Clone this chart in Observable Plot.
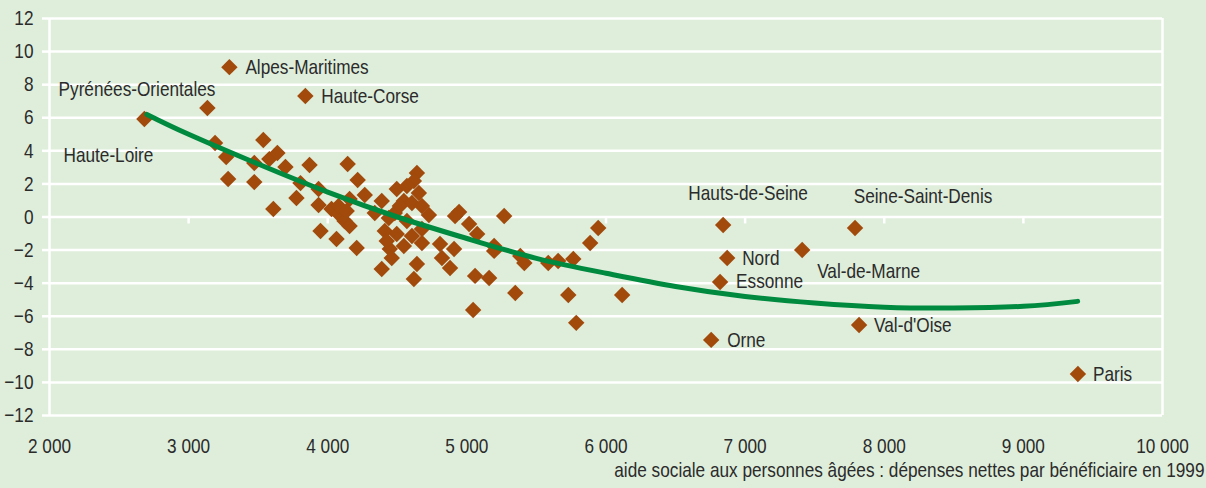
<!DOCTYPE html>
<html>
<head>
<meta charset="utf-8">
<script src="https://cdn.jsdelivr.net/npm/d3@7"></script>
<script src="https://cdn.jsdelivr.net/npm/@observablehq/plot@0.6"></script>
<style>
  html, body { margin: 0; padding: 0; background: #DFEEDB; }
  #chart { width: 1206px; height: 488px; overflow: hidden; }
</style>
</head>
<body>
<div id="chart"></div>
<script>
// ---- Data ----
const xTicks = [2000, 3000, 4000, 5000, 6000, 7000, 8000, 9000, 10000];
const yTicks = [-12, -10, -8, -6, -4, -2, 0, 2, 4, 6, 8, 10, 12];
const xTitle = "aide sociale aux personnes âgées : dépenses nettes par bénéficiaire en 1999";

// labelled départements
const namedNames = ["Haute-Loire", "Pyrénées-Orientales", "Alpes-Maritimes", "Haute-Corse",
  "Hauts-de-Seine", "Seine-Saint-Denis", "Nord", "Val-de-Marne", "Essonne", "Orne", "Val-d'Oise", "Paris"];
const namedX = [2682, 3135, 3293, 3839, 6842, 7790, 6871, 7410, 6820, 6756, 7819, 9392];
const namedY = [5.92, 6.59, 9.06, 7.31, -0.48, -0.66, -2.48, -1.99, -3.93, -7.43, -6.53, -9.49];

// other départements
const otherX = [3190, 3270, 3284, 3537, 3472, 3472, 3580, 3638, 3696, 3609,
  3869, 3804, 3775, 3934, 3934, 4027, 4078, 4121, 3948, 4063,
  4143, 4215, 4157, 4078, 4136, 4157, 4208, 4266, 4641, 4619,
  4496, 4655, 4388, 4547, 4605, 4338, 4482, 4727, 4439, 4410,
  4496, 4605, 4677, 4446, 4547, 4460, 4677, 4388, 4641, 4619,
  4807, 4908, 4821, 4879, 4944, 4915, 5016, 5074, 5059, 5160,
  5268, 5196, 5196, 5348, 5045, 5384, 5413, 5585, 5656, 5765,
  5944, 5886, 5729, 6116, 5786, 4569, 4518, 4677, 4569, 4424];
const otherY = [4.47, 3.63, 2.30, 4.65, 3.26, 2.11, 3.50, 3.87, 3.02, 0.48,
  3.14, 2.05, 1.15, 1.69, 0.73, 0.48, 0.18, -0.24, -0.85, -1.33,
  3.20, 2.24, 1.09, 0.66, 0.36, -0.54, -1.87, 1.33, 2.66, 2.18,
  1.69, 1.45, 0.97, 0.97, 0.85, 0.24, 0.24, 0.12, -0.06, -0.85,
  -1.03, -1.15, -0.73, -1.93, -1.75, -2.48, -1.57, -3.14, -2.84, -3.75,
  -1.63, -1.93, -2.48, -3.08, 0.30, 0.06, -0.42, -1.03, -3.56, -3.69,
  0.06, -1.75, -2.05, -4.59, -5.62, -2.36, -2.78, -2.78, -2.66, -2.54,
  -0.66, -1.57, -4.71, -4.71, -6.40, 1.87, 0.66, 0.66, -0.24, -1.45];

// trend curve
const trendX = [2700, 3000, 3500, 4000, 4500, 5000, 5500, 6000, 6500, 7000, 7500, 8000, 8500, 9000, 9390];
const trendY = [6.2, 5.0, 3.2, 1.5, 0.0, -1.3, -2.5, -3.4, -4.2, -4.8, -5.2, -5.45, -5.5, -5.4, -5.1];

// ---- Build tables ----
const points = [
  ...otherX.map((x, i) => ({x, y: otherY[i]})),
  ...namedX.map((x, i) => ({x, y: namedY[i], name: namedNames[i]}))
];
const named = namedX.map((x, i) => ({x, y: namedY[i], name: namedNames[i]}));
const trend = trendX.map((x, i) => ({x, y: trendY[i]}));

// ---- Styles ----
const BG = "#DFEEDB";
const DOT = "#A14A0C";
const LINE = "#008A3F";
const TEXT = "#2b2b2b";
const FONT = "'Liberation Sans', Arial, sans-serif";
const FS = 21;          // font size
const NARROW = 0.82;    // horizontal condensing (Arial Narrow look)
const labelPlacement = {
  "Haute-Loire": ["end", 9, 36],
  "Pyrénées-Orientales": ["end", 8, -19],
  "Alpes-Maritimes": ["start", 16, 0],
  "Haute-Corse": ["start", 16, 0],
  "Hauts-de-Seine": ["middle", 25, -32],
  "Seine-Saint-Denis": ["middle", 68, -32],
  "Nord": ["start", 15, 0],
  "Val-de-Marne": ["start", 15, 21],
  "Essonne": ["start", 16, -1],
  "Orne": ["start", 16, 0],
  "Val-d'Oise": ["start", 15, 0],
  "Paris": ["start", 15, 0]
};
const fmt = d => d3.format(",")(d).replace(/,/g, " ");

const chart = Plot.plot({
  width: 1206,
  height: 488,
  marginLeft: 49,
  marginRight: 44,
  marginTop: 18,
  marginBottom: 73,
  style: {background: BG, fontFamily: FONT, fontSize: FS + "px", color: TEXT, overflow: "visible"},
  x: {domain: [2000, 10000]},
  y: {domain: [-12, 12]},
  marks: [
    Plot.ruleY(yTicks, {stroke: "white", strokeWidth: 2.5}),
    Plot.ruleX([2000, 10000], {stroke: "white", strokeWidth: 2.5}),
    Plot.ruleX(xTicks.slice(1, -1), {y1: 0, y2: -0.42, stroke: "white", strokeWidth: 2.5}),
    Plot.axisY(yTicks, {tickSize: 7, tickPadding: 9, stroke: "white", strokeWidth: 2.5, fill: TEXT, fontSize: FS, label: null}),
    Plot.axisX(xTicks, {anchor: "bottom", tickSize: 0, tickPadding: 23, tickFormat: fmt, fill: TEXT, fontSize: FS, label: null}),
    Plot.text([xTitle], {frameAnchor: "bottom-right", dx: 42, dy: 61, textAnchor: "end", fill: TEXT, fontSize: FS}),
    Plot.dot(points, {x: "x", y: "y", symbol: "diamond2", r: 7.4, fill: DOT, stroke: "none"}),
    Plot.line(trend, {x: "x", y: "y", curve: "natural", stroke: LINE, strokeWidth: 5, strokeLinecap: "round"}),
    ...named.map(d => {
      const [anchor, dx, dy] = labelPlacement[d.name];
      return Plot.text([d], {x: "x", y: "y", text: "name", textAnchor: anchor, dx, dy, fill: TEXT, fontSize: FS});
    })
  ]
});
// condense all texts horizontally around their anchor point
chart.querySelectorAll("text").forEach(t => {
  const tr = t.getAttribute("transform");
  if (tr) t.setAttribute("transform", tr + ` scale(${NARROW},1)`);
});
document.getElementById("chart").appendChild(chart);
</script>
</body>
</html>
